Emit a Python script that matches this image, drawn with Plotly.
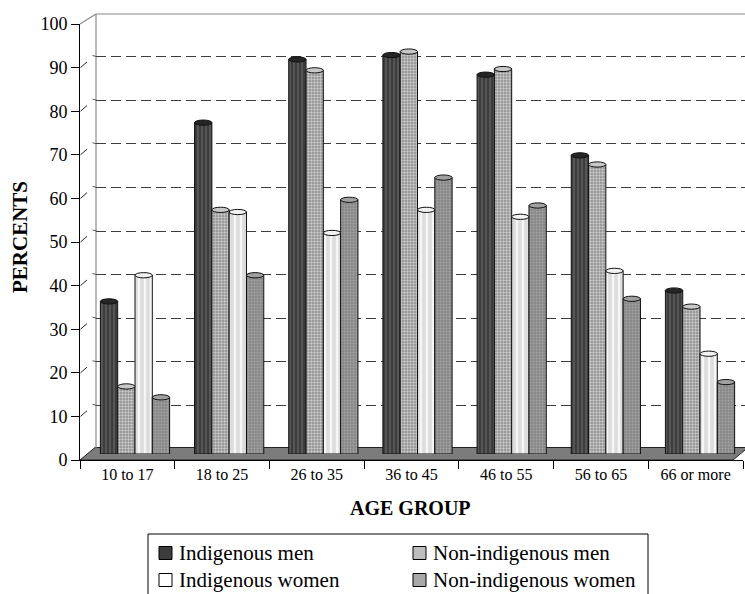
import plotly.graph_objects as go

# ---- data -------------------------------------------------------------
age_groups = ["10 to 17", "18 to 25", "26 to 35", "36 to 45", "46 to 55", "56 to 65", "66 or more"]
indigenous_men = [35, 76, 90.5, 91.5, 87, 68.5, 37.5]
non_indigenous_men = [15.5, 56, 88, 92.3, 88.3, 66.4, 33.8]
indigenous_women = [41, 55.5, 50.7, 56, 54.4, 42, 23]
non_indigenous_women = [13, 41, 58.3, 63.4, 57, 35.6, 16.5]
y_ticks = list(range(0, 101, 10))

series_names = ["Indigenous men", "Non-indigenous men", "Indigenous women", "Non-indigenous women"]
series_values = [indigenous_men, non_indigenous_men, indigenous_women, non_indigenous_women]

# ---- page geometry (pixels -> paper fractions) -------------------------
W, H = 745, 594
def fx(px):
    return px / W
def fy(py):
    return 1 - py / H

SERIF = "Liberation Serif"

# bar styling per series
bar_styles = [
    dict(color="#3c3c3c", pattern=dict(shape="|", fgcolor="#707070", bgcolor="#3c3c3c", size=4, solidity=0.25), cap="#262626"),
    dict(color="#a8a8a8", pattern=dict(shape="+", fgcolor="#d8d8d8", bgcolor="#9a9a9a", size=3, solidity=0.3), cap="#c8c8c8"),
    dict(color="#e4e4e4", pattern=dict(shape="|", fgcolor="#f6f6f6", bgcolor="#dcdcdc", size=6, solidity=0.4), cap="#f2f2f2"),
    dict(color="#8c8c8c", pattern=dict(shape=".", fgcolor="#a6a6a6", bgcolor="#888888", size=3, solidity=0.3), cap="#a0a0a0"),
]
legend_colors = ["#3c3c3c", "#bdbdbd", "#ffffff", "#a8a8a8"]

fig = go.Figure()

# placeholder traces so the front axes and the back-wall axes are created
fig.add_trace(go.Scatter(x=age_groups, y=[None] * len(age_groups), xaxis="x", yaxis="y",
                         showlegend=False, hoverinfo="skip"))
fig.add_trace(go.Scatter(x=[0, 1], y=[None, None], xaxis="x2", yaxis="y2",
                         showlegend=False, hoverinfo="skip"))

# the cylinders (bars sit half-way back on the floor)
positions = list(range(len(age_groups)))
bargap = 0.265
n_series = len(series_values)
bar_w = (1 - bargap) / n_series
for name, vals, st in zip(series_names, series_values, bar_styles):
    fig.add_trace(go.Bar(
        x=positions, y=vals, name=name, xaxis="x3", yaxis="y3",
        marker=dict(color=st["color"], pattern=st["pattern"],
                    line=dict(color="#111111", width=1)),
        showlegend=False,
    ))

shapes = []

# floor
floor_path = "M {},{} L {},{} L {},{} L {},{} Z".format(
    fx(80), fy(460), fx(95), fy(447.5), fx(748), fy(447.5), fx(733), fy(460))
shapes.append(dict(type="path", path=floor_path, xref="paper", yref="paper",
                   fillcolor="#7c7c7c", line=dict(color="#222222", width=1), layer="below"))

# back wall outline and side-wall top edge
shapes.append(dict(type="line", xref="paper", yref="paper", x0=fx(96), y0=fy(14), x1=1, y1=fy(14),
                   line=dict(color="#8a8a8a", width=1.2), layer="below"))
shapes.append(dict(type="line", xref="paper", yref="paper", x0=fx(96), y0=fy(14), x1=fx(96), y1=fy(448),
                   line=dict(color="#8a8a8a", width=1.2), layer="below"))
shapes.append(dict(type="line", xref="paper", yref="paper", x0=fx(80), y0=fy(24), x1=fx(96), y1=fy(14),
                   line=dict(color="#8a8a8a", width=1.2), layer="below"))

# slanted tick marks leading from the front axis toward the back wall
for v in y_ticks[1:-1]:
    shapes.append(dict(type="line", xref="paper", yref="y", x0=fx(80.5), y0=v, x1=fx(87), y1=v + 1.3,
                       line=dict(color="#222222", width=1)))
    shapes.append(dict(type="line", xref="paper", yref="y2", x0=fx(92.5), y0=v + 0.25, x1=fx(96.5), y1=v,
                       line=dict(color="#555555", width=1)))

# elliptical tops of the cylinders
for s, (vals, st) in enumerate(zip(series_values, bar_styles)):
    off = (s - (n_series - 1) / 2) * bar_w
    for c, v in zip(positions, vals):
        xc = c + off
        shapes.append(dict(type="circle", xref="x3", yref="y3",
                           x0=xc - bar_w / 2, x1=xc + bar_w / 2, y0=v - 0.6, y1=v + 0.6,
                           fillcolor=st["cap"], line=dict(color="#111111", width=1), layer="above"))

# legend box and swatches
shapes.append(dict(type="rect", xref="paper", yref="paper", x0=fx(148), y0=fy(534), x1=fx(648), y1=fy(604),
                   line=dict(color="#000000", width=1), fillcolor="rgba(0,0,0,0)"))
legend_pos = [(159, 553), (413, 553), (159, 580), (413, 580)]
annotations = []
for (lx, ly), name, col in zip(legend_pos, series_names, legend_colors):
    shapes.append(dict(type="rect", xref="paper", yref="paper",
                       x0=fx(lx), x1=fx(lx + 13), y0=fy(ly - 6.5), y1=fy(ly + 6.5),
                       fillcolor=col, line=dict(color="#000000", width=1)))
    annotations.append(dict(text=name, xref="paper", yref="paper", x=fx(lx + 18), y=fy(ly),
                            xanchor="left", yanchor="middle", showarrow=False,
                            font=dict(family=SERIF, size=21, color="#000000")))

# axis titles
annotations.append(dict(text="<b>AGE GROUP</b>", xref="paper", yref="paper", x=fx(410), y=fy(508),
                        xanchor="center", yanchor="middle", showarrow=False,
                        font=dict(family=SERIF, size=20, color="#000000")))
annotations.append(dict(text="<b>PERCENTS</b>", xref="paper", yref="paper", x=fx(20), y=fy(237),
                        xanchor="center", yanchor="middle", showarrow=False, textangle=-90,
                        font=dict(family=SERIF, size=21, color="#000000")))

fig.update_layout(
    template="none",
    width=W, height=H,
    margin=dict(l=0, r=0, t=0, b=0, pad=0, autoexpand=False),
    paper_bgcolor="#ffffff",
    plot_bgcolor="rgba(0,0,0,0)",
    font=dict(family=SERIF, color="#000000"),
    barmode="group", bargap=bargap, bargroupgap=0,
    shapes=shapes, annotations=annotations,
    showlegend=False,
    # front category axis
    xaxis=dict(domain=[fx(80), fx(743)], anchor="y", type="category", automargin=False,
               categoryorder="array", categoryarray=age_groups,
               range=[-0.5, len(age_groups) - 0.5],
               showline=True, linecolor="#000000", linewidth=1,
               ticks="outside", tickson="boundaries", ticklen=8, tickcolor="#000000", tickwidth=1,
               showgrid=False, zeroline=False,
               tickfont=dict(family=SERIF, size=16, color="#000000")),
    # front value axis
    yaxis=dict(domain=[fy(460), fy(24)], anchor="x", range=[0, 100], automargin=False,
               tickvals=y_ticks, showline=True, linecolor="#000000", linewidth=1,
               ticks="outside", ticklen=8, tickcolor="#000000", tickwidth=1,
               showgrid=False, zeroline=False,
               tickfont=dict(family=SERIF, size=18, color="#000000")),
    # back wall with dashed gridlines
    xaxis2=dict(domain=[fx(96), 1], anchor="y2", range=[0, 1], visible=False, automargin=False),
    yaxis2=dict(domain=[fy(449), fy(13)], anchor="x2", range=[0, 100], automargin=False,
                tickvals=y_ticks[1:-1], showticklabels=False, ticks="",
                showgrid=True, gridcolor="#3c3c3c", gridwidth=1.3, griddash="10px,5px",
                zeroline=False, showline=False),
    # bars, placed half-way between front and back
    xaxis3=dict(domain=[fx(88), 1], anchor="y3", automargin=False,
                range=[(88 - 135) / 94.17, (745 - 135) / 94.17], visible=False),
    yaxis3=dict(domain=[fy(454), fy(18)], anchor="x3", range=[0, 100], visible=False, automargin=False),
)

fig.write_html("out.html")
